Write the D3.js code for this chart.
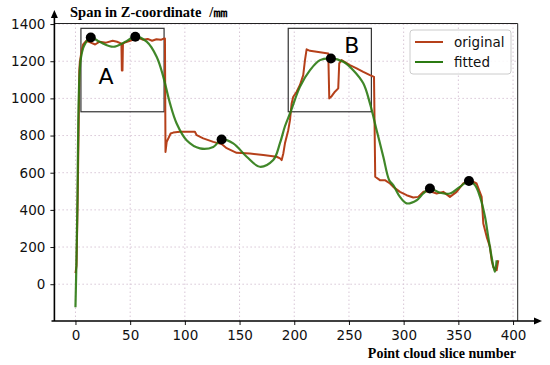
<!DOCTYPE html>
<html>
<head>
<meta charset="utf-8">
<script src="https://cdn.jsdelivr.net/npm/d3@7"></script>
<style>
body { margin: 0; background: white; }
</style>
</head>
<body>
<script>
// slice number / span values
const origX = [0, 1, 2, 3, 3.5, 4, 6, 7, 10, 14, 18, 22, 28, 34, 38, 42, 42.4, 43, 43.4, 45, 50, 55, 58, 62, 66, 70, 74, 78, 81, 81.8, 82.3, 83.4, 87, 89.4, 95.5, 109.2, 110.8, 116.8, 126, 133.6, 138.2, 147.3, 159.5, 171.7, 183.9, 187, 188.5, 190, 191.5, 194.5, 196.1, 197.6, 199.1, 202.2, 205.2, 208.2, 209.8, 211.3, 214.4, 231.1, 232, 234.2, 237.2, 240.2, 241.1, 243.3, 250.9, 257, 263.1, 269.2, 272.9, 274, 278.3, 282.9, 287.5, 290.5, 296.6, 302.7, 308.8, 313.3, 317.9, 324, 330.2, 336.2, 342.3, 348.4, 354.5, 360.6, 366.7, 371.3, 372.8, 375.9, 378.9, 380.4, 381.9, 385, 386.5];
const origY = [60, 100, 450, 880, 1150, 1195, 1270, 1290, 1310, 1300, 1290, 1305, 1300, 1310, 1305, 1295, 1150, 1150, 1295, 1300, 1310, 1320, 1325, 1315, 1320, 1310, 1318, 1315, 1322, 1322, 712, 766, 811, 816, 820, 820, 802, 785, 766, 754, 732, 707, 704, 695, 686, 677, 668, 704, 758, 829, 883, 973, 1009, 1036, 1072, 1125, 1206, 1264, 1256, 1242, 1000, 1012, 1036, 1054, 1188, 1206, 1179, 1162, 1143, 1125, 1116, 578, 560, 560, 542, 524, 497, 479, 467, 470, 497, 500, 488, 497, 470, 497, 542, 560, 542, 470, 327, 255, 201, 129, 93, 75, 129];

const fitX = [0, 0.7, 1.8, 2.6, 3.7, 5, 7.8, 13.9, 22.4, 34.6, 45.2, 54.7, 65.1, 74.2, 80.3, 86.4, 92.5, 101.6, 113.8, 126, 133.6, 144.2, 156.5, 168.6, 180.8, 187, 191.5, 196.7, 205.2, 214.4, 223.5, 233.5, 244.8, 253.9, 263.1, 269.2, 275.3, 281.4, 286.8, 290.5, 296.6, 302.7, 311.9, 317.9, 324, 333.2, 342.3, 351.4, 359.7, 365.2, 369.8, 374.4, 377.3, 380.4, 383.4, 385];
const fitY = [-124, 65, 452, 883, 1125, 1217, 1282, 1328, 1303, 1278, 1303, 1332, 1305, 1224, 1116, 973, 865, 775, 731, 739, 779, 758, 686, 632, 668, 760, 850, 928, 1062, 1152, 1206, 1215, 1197, 1152, 1081, 973, 829, 686, 560, 533, 470, 435, 452, 488, 515, 492, 488, 524, 555, 533, 470, 362, 255, 147, 66, 129];

const peakX = [14, 54.7, 133.6, 233.5, 324, 359.7];
const peakY = [1328, 1332, 779, 1215, 515, 555];

// zoom-in boxes: [x0, x1, y0, y1]
const boxA = [5, 81, 928, 1377];
const boxB = [194.5, 270.5, 928, 1377];

const xTicks = [0, 50, 100, 150, 200, 250, 300, 350, 400];
const yTicks = [0, 200, 400, 600, 800, 1000, 1200, 1400];

const W = 550, H = 365;
const svg = d3.select("body").append("svg")
	.attr("width", W)
	.attr("height", H);

const x = d3.scaleLinear().domain([-19.25, 404.25]).range([54.4, 517.7]);
const y = d3.scaleLinear().domain([-198, 1403]).range([321, 23.5]);

// grid
const grid = svg.append("g")
	.attr("stroke", "#d8c6d6")
	.attr("stroke-width", 1)
	.attr("stroke-dasharray", "1.5,2.5");
grid.selectAll(".vg").data(xTicks).join("line")
	.attr("x1", d => x(d)).attr("x2", d => x(d))
	.attr("y1", y(1403)).attr("y2", y(-198));
grid.selectAll(".hg").data(yTicks).join("line")
	.attr("x1", x(-19.25)).attr("x2", x(404.25))
	.attr("y1", d => y(d)).attr("y2", d => y(d));

// top and right frame
svg.append("path")
	.attr("d", `M${x(-19.25)},${y(1403)}H${x(404.25)}V${y(-198)}`)
	.attr("fill", "none")
	.attr("stroke", "#222")
	.attr("stroke-width", 1);

// boxes
[boxA, boxB].forEach(b => {
	svg.append("rect")
		.attr("x", x(b[0]))
		.attr("y", y(b[3]))
		.attr("width", x(b[1]) - x(b[0]))
		.attr("height", y(b[2]) - y(b[3]))
		.attr("fill", "none")
		.attr("stroke", "#333")
		.attr("stroke-width", 1.2);
});

// lines
const origLine = d3.line()
	.x(d => x(d[0]))
	.y(d => y(d[1]));
svg.append("path")
	.datum(d3.zip(origX, origY))
	.attr("d", origLine)
	.attr("fill", "none")
	.attr("stroke", "#b5401a")
	.attr("stroke-width", 2)
	.attr("stroke-linejoin", "round");

const fitLine = d3.line()
	.curve(d3.curveCatmullRom.alpha(0.5))
	.x(d => x(d[0]))
	.y(d => y(d[1]));
svg.append("path")
	.datum(d3.zip(fitX, fitY))
	.attr("d", fitLine)
	.attr("fill", "none")
	.attr("stroke", "#2b7a12")
	.attr("stroke-opacity", 0.9)
	.attr("stroke-width", 2.2);

// peaks
svg.selectAll(".peak").data(d3.zip(peakX, peakY)).join("circle")
	.attr("cx", d => x(d[0]))
	.attr("cy", d => y(d[1]))
	.attr("r", 5)
	.attr("fill", "black");

// box labels
svg.append("text")
	.attr("x", x(27.9)).attr("y", y(1077))
	.attr("text-anchor", "middle")
	.style("font-family", "DejaVu Sans")
	.style("font-size", "22px")
	.text("A");
svg.append("text")
	.attr("x", x(252.7)).attr("y", y(1245))
	.attr("text-anchor", "middle")
	.style("font-family", "DejaVu Sans")
	.style("font-size", "22px")
	.text("B");

// axes
const xAxis = svg.append("g")
	.attr("transform", `translate(0,${y(-198)})`)
	.call(d3.axisBottom(x).tickValues(xTicks).tickFormat(d3.format("d")).tickSize(4).tickSizeOuter(0));
xAxis.select(".domain").remove();
const yAxis = svg.append("g")
	.attr("transform", `translate(${x(-19.25)},0)`)
	.call(d3.axisLeft(y).tickValues(yTicks).tickFormat(d3.format("d")).tickSize(4).tickSizeOuter(0));
yAxis.select(".domain").remove();
svg.selectAll(".tick text")
	.style("font-family", "DejaVu Sans")
	.style("font-size", "13.5px")
	.attr("fill", "#111");
xAxis.selectAll(".tick text").attr("y", 6).attr("dy", "0.95em");
yAxis.selectAll(".tick text").attr("x", -9);
svg.selectAll(".tick line").attr("stroke", "#111");

// axis lines with arrows
const x0 = x(-19.25), yb = y(-198);
svg.append("line")
	.attr("x1", 51.5).attr("x2", 536)
	.attr("y1", yb).attr("y2", yb)
	.attr("stroke", "black").attr("stroke-width", 1.6);
svg.append("path")
	.attr("d", `M${542},${yb}L${534},${yb - 3.5}L${534},${yb + 3.5}Z`)
	.attr("fill", "black");
svg.append("line")
	.attr("x1", x0).attr("x2", x0)
	.attr("y1", yb).attr("y2", 17)
	.attr("stroke", "black").attr("stroke-width", 1.6);
svg.append("path")
	.attr("d", `M${x0},${10}L${x0 - 3.5},${18}L${x0 + 3.5},${18}Z`)
	.attr("fill", "black");

// legend
const lg = svg.append("g").attr("transform", "translate(410,30)");
lg.append("rect")
	.attr("width", 101).attr("height", 44)
	.attr("rx", 3)
	.attr("fill", "white").attr("fill-opacity", 0.85)
	.attr("stroke", "#cccccc");
const legendItems = [["original", "#b5401a"], ["fitted", "#2b7a12"]];
legendItems.forEach((it, i) => {
	lg.append("line")
		.attr("x1", 5).attr("x2", 33)
		.attr("y1", 12 + i * 20).attr("y2", 12 + i * 20)
		.attr("stroke", it[1]).attr("stroke-width", 2);
	lg.append("text")
		.attr("x", 44).attr("y", 17 + i * 20)
		.style("font-family", "DejaVu Sans")
		.style("font-size", "13.5px")
		.attr("fill", "#111")
		.text(it[0]);
});

// axis titles
const yTitle = svg.append("text")
	.attr("x", 70).attr("y", 17)
	.style("font-family", "Liberation Serif")
	.style("font-weight", "bold")
	.style("font-size", "14.5px");
yTitle.append("tspan").text("Span in Z-coordinate");
yTitle.append("tspan").attr("dx", 8).text("/㎜");
svg.append("text")
	.attr("x", 516).attr("y", 358)
	.attr("text-anchor", "end")
	.style("font-family", "Liberation Serif")
	.style("font-weight", "bold")
	.style("font-size", "14px")
	.text("Point cloud slice number");
</script>
</body>
</html>
